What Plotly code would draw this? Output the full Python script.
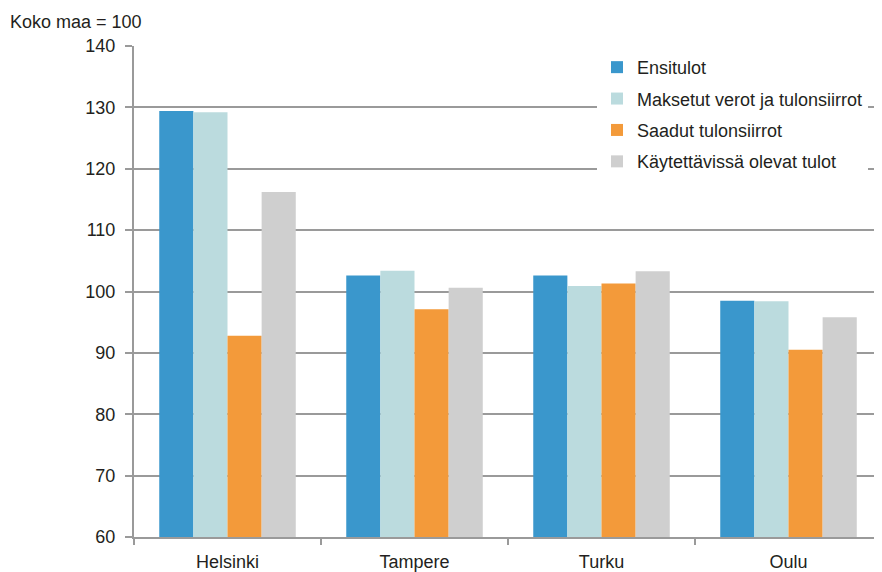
import plotly.graph_objects as go

categories = ["Helsinki", "Tampere", "Turku", "Oulu"]
series_names = ["Ensitulot", "Maksetut verot ja tulonsiirrot", "Saadut tulonsiirrot", "Käytettävissä olevat tulot"]
ensitulot = [129.4, 102.6, 102.6, 98.5]
maksetut = [129.2, 103.4, 100.9, 98.4]
saadut = [92.8, 97.1, 101.3, 90.5]
kaytettavissa = [116.2, 100.6, 103.3, 95.8]
colors = ["#3A97CC", "#BBDBDE", "#F39A3A", "#CFCFCF"]
y_ticks = [60, 70, 80, 90, 100, 110, 120, 130, 140]

fig = go.Figure()
for i, (name, vals) in enumerate(zip(series_names, [ensitulot, maksetut, saadut, kaytettavissa])):
    fig.add_trace(go.Bar(x=categories, y=vals, name=name, marker_color=colors[i],
                         marker_line_width=0, legendgroup=str(i)))

font = dict(family="Liberation Sans, Arial, sans-serif", size=18, color="#231F20")
fig.update_layout(
    width=882, height=572,
    margin=dict(l=126, r=8, t=38, b=43),
    plot_bgcolor="white", paper_bgcolor="white",
    font=font,
    barmode="group", bargap=0.27, bargroupgap=0,
    showlegend=True,
    legend=dict(x=(597 - 134) / 748, y=0.994, xanchor="left", yanchor="top",
                bgcolor="white", traceorder="grouped", tracegroupgap=5,
                font=dict(size=18, color="#231F20"), itemwidth=30),
    xaxis=dict(showline=True, linecolor="#9A9A9A", linewidth=2,
               ticks="outside", tickson="boundaries", ticklen=6, tickcolor="#9A9A9A", tickwidth=2,
               ticklabelstandoff=7, showgrid=False),
    yaxis=dict(range=[60, 140], tickvals=y_ticks, showline=True, linecolor="#9A9A9A", linewidth=2,
               ticks="outside", ticklen=7, tickcolor="#9A9A9A", tickwidth=2, ticklabelstandoff=6,
               showgrid=True, gridcolor="#9A9A9A", gridwidth=2, zeroline=False),
    annotations=[dict(text="Koko maa = 100", xref="paper", yref="paper", x=-126 / 748, y=1 + 24 / 491,
                      xanchor="left", yanchor="middle", showarrow=False, font=font)],
)
fig.write_html("out.html")
